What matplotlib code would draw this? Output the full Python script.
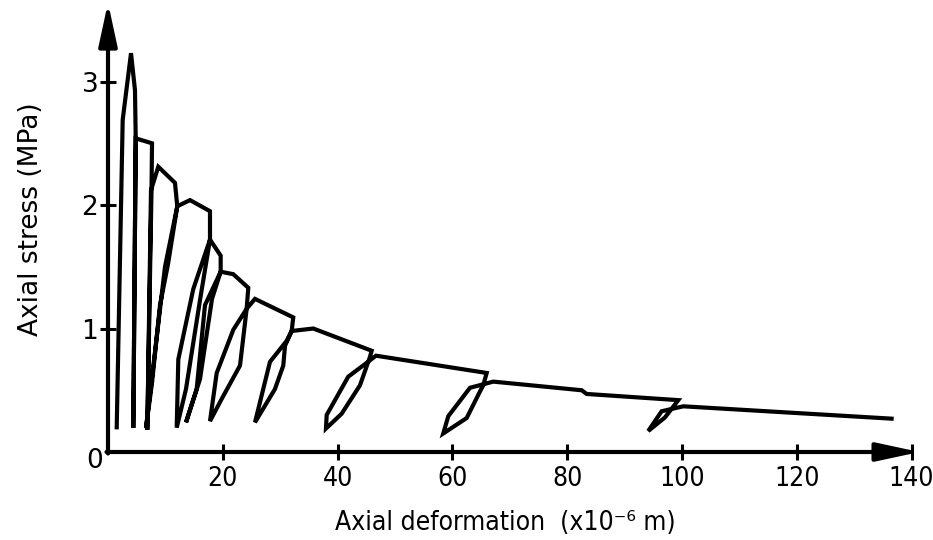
import matplotlib
matplotlib.use("Agg")
import matplotlib.pyplot as plt
from matplotlib import font_manager as fm

# loading / unloading path
deformation = [1.52, 2.56, 4.01, 4.70, 4.83, 4.41, 4.83, 7.67, 7.58, 6.85,
               7.49, 8.76, 11.67, 12.07, 9.93, 8.54, 6.62, 7.67, 9.06, 10.45,
               12.07, 14.29, 17.77, 17.77, 14.86, 12.25, 11.97, 13.59, 16.03, 17.77,
               19.63, 19.63, 16.90, 15.45, 13.59, 16.03, 18.12, 19.63, 21.83, 24.44,
               24.16, 21.83, 18.94, 17.77, 19.81, 23.0, 24.16, 25.61, 32.28, 32.0,
               30.84, 30.54, 29.09, 25.61, 28.22, 31.13, 32.0, 35.77, 45.94, 45.64,
               43.90, 40.71, 37.98, 38.10, 41.86, 45.30, 46.69, 65.98, 65.38, 64.81,
               62.49, 58.41, 59.29, 63.07, 67.13, 82.53, 83.40, 99.36, 98.20, 97.04,
               94.13, 96.46, 100.23, 136.53]
stress = [0.20, 2.69, 3.23, 2.93, 2.54, 0.195, 2.54, 2.50, 2.12, 0.18,
          2.12, 2.31, 2.18, 1.99, 1.50, 0.95, 0.196, 0.56, 1.19, 1.52,
          1.99, 2.04, 1.95, 1.72, 1.32, 0.75, 0.197, 0.51, 1.23, 1.72,
          1.59, 1.46, 1.19, 0.51, 0.24, 0.59, 1.24, 1.46, 1.44, 1.33,
          1.16, 0.99, 0.64, 0.25, 0.43, 0.70, 1.16, 1.24, 1.09, 0.98,
          0.86, 0.70, 0.51, 0.24, 0.73, 0.90, 0.98, 1.00, 0.82, 0.77,
          0.54, 0.31, 0.19, 0.30, 0.61, 0.73, 0.78, 0.64, 0.54, 0.49,
          0.275, 0.15, 0.29, 0.52, 0.57, 0.50, 0.47, 0.42, 0.35, 0.28,
          0.17, 0.33, 0.37, 0.27]

xticks = [20, 40, 60, 80, 100, 120, 140]
yticks = [1, 2, 3]

# narrow font for the x axis text if one is around
cond = None
for f in fm.fontManager.ttflist:
    if f.name == 'DejaVu Sans' and 'Condensed' in f.fname and 'Bold' not in f.fname and 'Oblique' not in f.fname:
        cond = f.fname
if cond:
    xfont = fm.FontProperties(fname=cond, size=19)
else:
    names = [f.name for f in fm.fontManager.ttflist]
    if 'Liberation Sans Narrow' in names:
        xfont = fm.FontProperties(family='Liberation Sans Narrow', size=19)
    else:
        xfont = fm.FontProperties(family='DejaVu Sans', size=19)

fig = plt.figure(figsize=(9.33, 5.4), dpi=100)
ax = fig.add_axes([108 / 933, 88 / 540, 815 / 933, 447 / 540])
ax.set_xlim(0, 142)
ax.set_ylim(0, 3.62)

ax.plot(deformation, stress, color='black', lw=3, solid_joinstyle='miter')

for sp in ax.spines.values():
    sp.set_visible(False)

arrow = dict(arrowstyle='-|>,head_length=1.3,head_width=0.28', lw=3, color='black',
             mutation_scale=20, shrinkA=0, shrinkB=0)
ax.annotate('', xy=(141.4, 0), xytext=(-0.26, 0), arrowprops=arrow, annotation_clip=False)
ax.annotate('', xy=(0, 3.64), xytext=(0, -0.012), arrowprops=arrow, annotation_clip=False)

ax.set_xticks(xticks)
ax.set_yticks(yticks)
ax.tick_params(axis='x', direction='inout', length=12, width=2.2, pad=4)
ax.tick_params(axis='y', direction='inout', length=12, width=2.2, pad=1, labelsize=19)
for lbl in ax.get_xticklabels():
    lbl.set_fontproperties(xfont)

ax.text(-2.3, -0.07, '0', fontsize=19, ha='center', va='center')

fig.text(505 / 933, 1 - 523 / 540, 'Axial deformation  (x10\u207b\u2076 m)',
         fontproperties=xfont, ha='center', va='center')
fig.text(31 / 933, 1 - 219 / 540, 'Axial stress (MPa)', rotation=90,
         fontsize=19, ha='center', va='center')

fig.savefig('out.png', dpi=100)
